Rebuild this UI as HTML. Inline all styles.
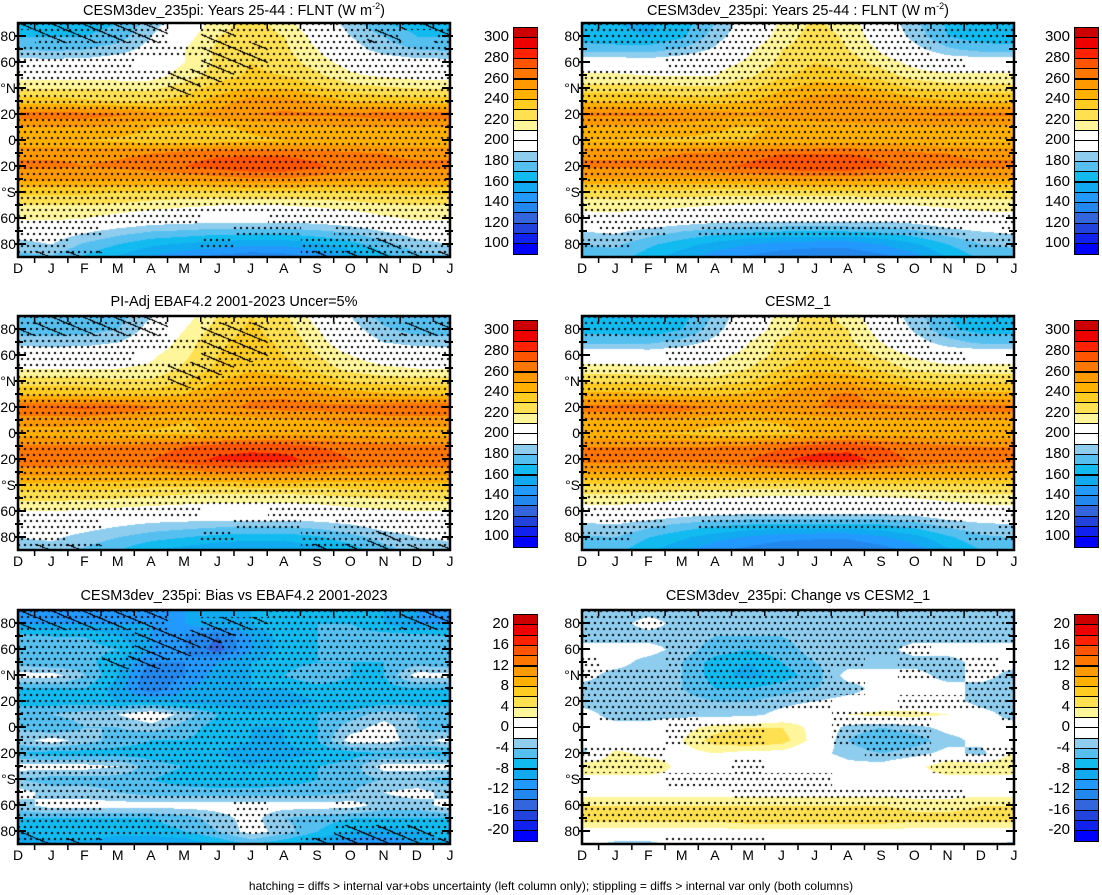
<!DOCTYPE html>
<html><head><meta charset="utf-8">
<style>
body{margin:0;background:#fff;width:1102px;height:895px;overflow:hidden;position:relative;font-family:"Liberation Sans",sans-serif}
.t{position:absolute;font-size:14px;color:#000;white-space:nowrap}
canvas{position:absolute}
</style></head><body>
<div id="root"></div>
<div class="t" style="left:0;width:1102px;text-align:center;top:879px;font-size:12px">hatching = diffs &gt; internal var+obs uncertainty (left column only); stippling = diffs &gt; internal var only (both columns)</div>
<script>
const months=["D","J","F","M","A","M","J","J","A","S","O","N","D","J"];
const latLabels=["80","60","°N","20","0","20","°S","60","80"];
const flntTicks=["300","280","260","240","220","200","180","160","140","120","100"];
const diffTicks=["20","16","12","8","4","0","-4","-8","-12","-16","-20"];
const titles=["CESM3dev_235pi: Years 25-44 : FLNT (W m<sup style='font-size:9px'>-2</sup>)","CESM3dev_235pi: Years 25-44 : FLNT (W m<sup style='font-size:9px'>-2</sup>)","PI-Adj EBAF4.2 2001-2023 Uncer=5%","CESM2_1","CESM3dev_235pi: Bias vs EBAF4.2 2001-2023","CESM3dev_235pi: Change vs CESM2_1"];
// rows 90N..90S every 10 deg; columns J..D
const field1=[
[165,165,170,185,200,215,225,215,200,185,170,165],
[170,170,175,190,205,220,225,220,205,190,180,170],
[178,180,185,195,210,222,228,222,210,195,185,180],
[195,195,198,200,210,222,230,225,215,205,198,195],
[205,205,205,205,215,225,232,230,222,212,208,205],
[220,220,218,218,225,235,240,240,232,225,222,220],
[235,232,230,230,235,245,255,255,248,240,238,235],
[265,265,262,255,250,255,260,262,262,262,265,265],
[250,250,246,240,236,238,242,245,247,250,250,250],
[242,240,238,235,233,235,238,240,242,244,242,242],
[258,258,258,260,265,268,268,268,265,262,260,258],
[262,260,262,265,270,275,278,278,272,265,262,262],
[252,252,250,250,252,255,258,258,255,252,252,252],
[232,232,230,228,228,228,230,230,230,230,232,232],
[220,220,218,215,212,210,210,210,212,215,218,220],
[212,210,205,200,198,198,198,198,198,202,208,212],
[198,192,185,180,178,175,175,175,178,182,190,196],
[190,178,170,162,158,155,152,152,158,166,176,186],
[178,168,158,148,142,136,132,134,142,152,166,176]];
const field2=[
[160,158,165,180,198,212,222,215,200,182,168,162],
[162,160,168,185,200,215,225,218,202,186,170,164],
[175,175,182,192,208,220,226,220,208,194,182,176],
[200,198,200,205,212,222,230,226,216,206,200,200],
[212,210,210,210,218,228,235,232,225,215,212,212],
[225,225,222,222,228,238,245,245,238,230,226,225],
[240,238,236,236,240,248,255,258,252,245,242,240],
[262,262,260,255,252,255,258,260,260,260,262,262],
[247,247,245,241,239,241,243,245,247,247,247,247],
[240,238,238,238,240,242,244,246,244,244,240,240],
[258,258,260,262,266,270,270,270,266,262,260,258],
[262,262,264,268,272,276,280,278,272,266,262,262],
[248,248,248,248,250,252,254,254,252,250,248,248],
[226,226,225,224,224,224,226,226,226,226,226,226],
[215,214,212,210,208,206,206,206,208,210,212,214],
[205,203,200,198,196,196,196,196,196,198,202,205],
[192,186,180,175,172,170,170,170,172,178,186,190],
[182,172,164,156,150,146,144,144,150,158,170,180],
[175,164,154,144,138,132,130,130,136,146,160,172]];
const field3=[
[170,170,176,190,205,220,230,222,205,190,175,170],
[175,176,180,195,210,225,232,225,210,195,182,175],
[185,186,190,200,215,228,234,228,215,200,190,186],
[200,200,203,208,218,230,236,230,220,210,203,200],
[210,210,210,212,222,232,238,235,226,216,212,210],
[225,225,222,222,230,240,246,245,238,230,226,225],
[240,238,236,236,240,250,258,258,252,245,242,240],
[270,272,270,262,255,258,262,264,264,265,268,270],
[255,255,250,244,240,242,246,248,250,252,255,255],
[245,243,240,238,238,242,245,247,247,247,245,245],
[262,262,262,265,270,275,276,275,270,266,264,262],
[266,264,266,270,276,282,285,284,276,270,266,266],
[255,255,254,254,256,260,262,262,258,255,255,255],
[236,236,234,232,232,232,234,234,234,234,236,236],
[222,222,220,218,215,213,213,213,215,218,220,222],
[210,208,206,204,204,204,204,204,204,206,208,210],
[198,196,192,188,186,184,184,184,186,190,196,198],
[192,186,180,174,170,166,164,164,168,176,184,190],
[185,178,170,160,155,150,148,150,156,164,176,184]];
const field4=[
[162,160,166,182,200,214,224,216,200,184,170,164],
[165,162,170,186,202,216,226,220,204,188,172,166],
[178,178,184,194,210,222,228,222,210,196,184,178],
[202,200,202,207,214,224,232,228,218,208,202,202],
[214,212,212,212,220,230,237,234,227,217,214,214],
[228,228,225,225,230,240,248,248,240,232,228,228],
[243,241,238,238,242,250,258,262,255,248,245,243],
[265,268,266,258,254,256,260,262,262,262,264,265],
[250,250,247,243,240,241,245,247,249,249,249,250],
[242,240,239,236,235,237,242,246,246,245,242,242],
[260,260,260,260,262,268,274,276,270,264,262,260],
[264,262,262,265,270,278,285,285,276,268,264,264],
[250,250,248,248,250,252,255,255,253,250,250,250],
[228,228,226,225,225,225,227,227,227,227,228,228],
[216,214,212,210,208,206,206,206,208,210,213,215],
[204,202,199,197,195,195,195,195,195,197,201,204],
[190,184,178,173,170,168,168,168,170,176,184,188],
[180,170,162,154,148,144,142,142,148,156,168,178],
[173,162,152,142,136,130,128,128,134,144,158,170]];
const field5=[
[-10,-10,-10,-10,-10,-8,-8,-8,-8,-8,-8,-10],
[-10,-10,-10,-10,-10,-8,-8,-6,-6,-6,-8,-10],
[-6,-6,-8,-10,-12,-14,-10,-7,-6,-5,-5,-5],
[-5,-5,-6,-10,-12,-15,-10,-7,-6,-5,-5,-5],
[-6,-5,-8,-12,-12,-10,-8,-7,-6,-6,-6,-5],
[-1,-4,-8,-14,-12,-9,-8,-6,-4,-6,-6,-1],
[-6,-6,-9,-14,-10,-9,-8,-8,-7,-7,-7,-6],
[-7,-7,-8,-8,-9,-9,-10,-9,-8,-8,-7,-7],
[-4,-3,-2,0,-3,-6,-7,-7,-6,-5,-3,-4],
[-6,-4,-4,-3,-5,-7,-8,-8,-6,-3,-1,-4],
[-1,-3,-5,-6,-6,-7,-8,-8,-6,-1,-1,-3],
[-7,-7,-7,-7,-8,-8,-9,-9,-8,-7,-6,-6],
[-1,-1,-2,-5,-6,-7,-8,-7,-6,-5,-1,-1],
[-5,-5,-5,-6,-7,-8,-8,-7,-6,-5,-4,-4],
[-3,-3,-4,-5,-5,-5,-5,-5,-5,-4,-2,-1],
[-1,-1,-1,-1,-1,-1,-1,-1,-1,-1,-3,-3],
[-6,-6,-6,-6,-5,-3,-1,-4,-5,-6,-6,-6],
[-6,-6,-7,-7,-6,-4,-1,-3,-6,-8,-9,-8],
[-9,-9,-10,-10,-10,-8,-6,-8,-10,-12,-12,-10]];
const field6=[
[-3,-3,-3,-3,-3,-3,-3,-3,-3,-3,-3,-3],
[-3,-1,-3,-3,-3,-3,-3,-3,-3,-3,-3,-3],
[-3,-3,-3,-4,-4,-4,-3,-3,-3,-3,-3,-3],
[-1,-1,-3,-5,-6,-5,-3,-3,-3,-1,-1,-1],
[-1,-3,-4,-7,-8,-6,-4,-3,-3,-3,-3,-1],
[-3,-3,-4,-7,-9,-7,-5,-1,-1,-1,-3,-1],
[-3,-3,-4,-6,-6,-5,-4,-3,-1,-1,-1,-3],
[-3,-3,-3,-4,-4,-3,-2,-1,-1,-1,-1,-3],
[-3,-3,-3,-3,-3,-1,1,2,3,3,2,-1],
[-1,-1,1,3,4,4,1,-3,-4,-3,-1,-1],
[-1,-1,2,5,6,5,1,-4,-6,-5,-3,-1],
[3,1,1,2,1,1,-1,-3,-4,-3,-1,-3],
[4,4,1,1,1,1,1,-1,-1,1,4,4],
[1,1,1,1,1,1,1,1,1,1,1,1],
[1,1,1,1,1,1,1,1,1,1,1,1],
[4,4,4,4,4,4,4,4,4,3,3,4],
[5,5,5,5,6,6,6,6,6,5,5,5],
[1,1,1,1,1,1,1,1,1,1,1,1],
[-3,-3,-1,-1,-1,-1,-1,-1,-1,-1,-1,-1]];
// masks: ' ' none, 'o' stipple, 'h' hatch + stipple
const mask1=["hhhh ooooooh","hhhh hooooh","ooooohhooooo","ooo  hhooooo","oooohhoooooo","oooohooooooo","oooooooooooo","oooooooooooo","oooooooooooo","oooooooooooo","oooooooooooo","oooooooooooo","oooooooooooo","oooooooooooo","oooooooooooo","ooooo  ooooo","oo    oo ooo","o    o  ooho","hh      hhhh"];
const mask2=["oooooooooooo","oooooooooooo","  oooooooo  ","  ooooooooo ","oooooooooooo","oooooooooooo","oooooooooooo","oooooooooooo","oooooooooooo","oooooooooooo","oooooooooooo","oooooooooooo","oooooooooooo","oooooooooooo","oooooooooooo","oooooooooooo","oo oooooooo ","o          o","            "];
const mask3=["hhhh oooooooh","hhhh hhooooh","ooooohhooooo","ooo  hhooooo","oooohhoooooo","oooohooooooo","oooooooooooo","oooooooooooo","oooooooooooo","oooooooooooo","oooooooooooo","oooooooooooo","oooooooooooo","oooooooooooo","oooooooooooo","ooooo  ooooo","oo    oo ooo","o    o  ooho","hh      hhhh"];
const mask4=mask2;
const mask5=["hhhh   oooohh","hhhh hhooooh","ooohhhoooooo","ooohhooooooo","oohhoooooooo","oooooooooooo","oooooooooooo","oooooooooooo","oooooooooooo","oooooooooooo","oooooooooooo","oooooooooooo","oooooooooooo","oooooooooooo","oooooooooooo","oo    o  ooo","oooooooooooo","oooooooo hhh","hh      hhhh"];
const mask6=["oooooooooooo","oooooooooooo","oooooooooooo","  oooooooo  ","  oooooo ooo","ooooooo  ooo","oooooooo   o","ooooooo  ooo","ooo    ooo  ","  ooo  ooo  ","  ooo  ooo  ","oo      oo o","oo  o     oo","  ooooo     ","    ooooooo ","oooooooooooo","oooooooooooo","            ","  ooo       "];
const fields=[field1,field2,field3,field4,field5,field6];
const masks=[mask1,mask2,mask3,mask4,mask5,mask6];
const colors=["#cc0000","#ee0000","#ff2200","#ff5500","#ff7700","#ff9900","#ffb000","#ffcc22","#ffe050","#fff59a","#ffffff","#ffffff","#8fcdee","#55c0f0","#11bbf0","#11aaf0","#2299ff","#2288ee","#3366dd","#2244dd","#1122ee","#0000ff"];
const root=document.body;
const PW=432,PH=234;
const panelX=[18,582],panelY=[23,316,610];
function el(tag,name,css,html){const e=document.createElement(tag);e.setAttribute('style',css);if(html!==undefined)e.innerHTML=html;


root.appendChild(e);return e;}
function rgb(h){return [parseInt(h.substr(1,2),16),parseInt(h.substr(3,2),16),parseInt(h.substr(5,2),16)];}
const rgbs=colors.map(rgb);
function idxFor(v,diff){let k=diff?Math.floor((22-v)/2):Math.floor((310-v)/10);return Math.max(0,Math.min(21,k));}
function sample(F,xf,yf){
  let m=xf-1;
  let m0=Math.floor(m),t=m-m0;let a=((m0%12)+12)%12,b=(a+1)%12;
  let r0=Math.max(0,Math.min(18,Math.floor(yf))),r1=Math.min(18,r0+1),s=Math.max(0,Math.min(1,yf-r0));
  const v0=F[r0][a]*(1-t)+F[r0][b]*t,v1=F[r1][a]*(1-t)+F[r1][b]*t;return v0*(1-s)+v1*s;}
function maskAt(M,xf,yf){let m=Math.round(xf-1);m=((m%12)+12)%12;let r=Math.max(0,Math.min(18,Math.round(yf)));const row=M[r]||"";return row[m]||' ';}
for(let p=0;p<6;p++){
  const col=p%2,row=Math.floor(p/2),X=panelX[col],Y=panelY[row],diff=p>=4;
  const F=fields[p],M=masks[p];
  el('div','panel-title-'+(p+1),`position:absolute;left:${X}px;width:${PW}px;top:${Y-22}px;text-align:center;font-size:14.5px;white-space:nowrap`,titles[p]);
  const c=el('canvas','contour-map-'+(p+1),`left:${X}px;top:${Y}px`);c.width=PW;c.height=PH;
  const ctx=c.getContext('2d');const img=ctx.createImageData(PW,PH);
  for(let y=0;y<PH;y++)for(let x=0;x<PW;x++){
    const xf=x/PW*13,yf=y/PH*18;const v=sample(F,xf,yf);const k=idxFor(v,diff);let [r,g,b]=rgbs[k];
    const mk=maskAt(M,xf,yf);
    const row2=Math.floor(y/6);const dx=(x+(row2%2)*3)%6,dy=y%6;
    if(mk!==' '&&dx<2&&dy<2){r=g=b=0;}
    if(mk==='h'){const q=((x*0.42-y)%13+13)%13;if(q<1.3){r=g=b=0;}}
    const i=(y*PW+x)*4;img.data[i]=r;img.data[i+1]=g;img.data[i+2]=b;img.data[i+3]=255;}
  ctx.putImageData(img,0,0);
  const ns="http://www.w3.org/2000/svg";const svg=document.createElementNS(ns,'svg');
  svg.setAttribute('style',`position:absolute;left:${X-10}px;top:${Y-10}px;overflow:visible`);svg.setAttribute('width',PW+20);svg.setAttribute('height',PH+20);
  
  
  let s=`<rect x="10" y="10" width="${PW}" height="${PH}" fill="none" stroke="#000" stroke-width="2.5"/>`;
  for(let i=1;i<18;i++){const yy=10+i*PH/18;const L=(i%2===1)?8:5;s+=`<line x1="${10-3}" y1="${yy}" x2="${10+L}" y2="${yy}" stroke="#000" stroke-width="2"/><line x1="${10+PW+3}" y1="${yy}" x2="${10+PW-L}" y2="${yy}" stroke="#000" stroke-width="2"/>`;}
  for(let i=0;i<13;i++){const xx=10+(i+0.5)*PW/13;s+=`<line x1="${xx}" y1="${10}" x2="${xx}" y2="${16}" stroke="#000" stroke-width="1.5"/><line x1="${xx}" y1="${10+PH}" x2="${xx}" y2="${10+PH+6}" stroke="#000" stroke-width="1.5"/>`;}
  svg.innerHTML=s;root.appendChild(svg);
  months.forEach((m,i)=>{el('div','month-label',`position:absolute;left:${X+i*PW/13-10}px;width:20px;text-align:center;top:${Y+PH+3}px;font-size:14px`,m);});
  latLabels.forEach((l,i)=>{el('div','lat-label',`position:absolute;left:${X-40}px;width:38px;text-align:right;top:${Y+(i+1)*PH/9-PH/18-8}px;font-size:14px`,l);});
  const CX=col===0?513:1074,CY=Y+4,BH=10.3;
  for(let k=0;k<22;k++){el('div','colorbar-box',`position:absolute;left:${CX}px;top:${CY+k*BH}px;width:23px;height:${BH-1}px;background:${colors[k]};border:1px solid #000`);}
  const ticks=diff?diffTicks:flntTicks;
  ticks.forEach((t,i)=>{el('div','colorbar-label',`position:absolute;left:${CX-44}px;width:40px;text-align:right;top:${CY+(1+2*i)*BH-9}px;font-size:15px`,t);});
}
</script>
</body></html>
